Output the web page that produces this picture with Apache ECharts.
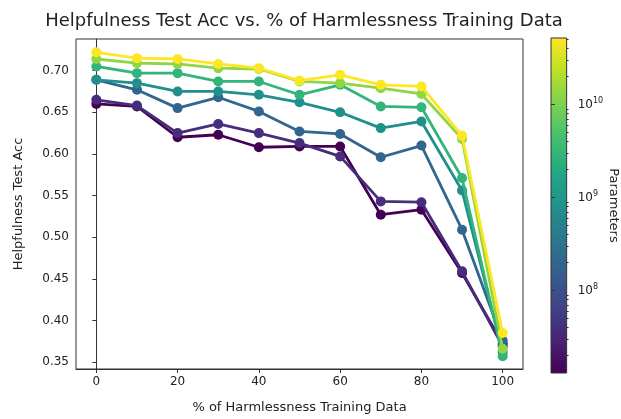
<!DOCTYPE html>
<html>
<head>
<meta charset="utf-8">
<script src="https://cdn.jsdelivr.net/npm/echarts@6/dist/echarts.min.js"></script>
<style>
  html, body { margin: 0; padding: 0; background: #fff; }
  #chart { width: 621px; height: 419px; }
</style>
</head>
<body>
<div id="chart"></div>
<script>
// % of harmlessness training data
var harmPct = [0, 10, 20, 30, 40, 50, 60, 70, 80, 90, 100]
// model sizes (parameters), smallest first
var modelParams = [1.3e7, 4.2e7, 1.97e8, 8.1e8, 2.7e9, 1.3e10, 5.2e10]
// helpfulness test acc per model, same order
var acc13M  = [0.660, 0.657, 0.620, 0.623, 0.608, 0.609, 0.609, 0.527, 0.533, 0.457, 0.372]
var acc42M  = [0.665, 0.658, 0.625, 0.636, 0.625, 0.613, 0.597, 0.543, 0.542, 0.459, 0.369]
var acc197M = [0.689, 0.677, 0.655, 0.668, 0.651, 0.627, 0.624, 0.596, 0.610, 0.509, 0.376]
var acc810M = [0.689, 0.685, 0.675, 0.675, 0.671, 0.662, 0.650, 0.631, 0.639, 0.556, 0.362]
var acc3B   = [0.705, 0.697, 0.697, 0.687, 0.687, 0.671, 0.683, 0.657, 0.656, 0.571, 0.357]
var acc13B  = [0.714, 0.709, 0.708, 0.703, 0.702, 0.687, 0.685, 0.679, 0.672, 0.618, 0.366]
var acc52B  = [0.722, 0.715, 0.714, 0.708, 0.703, 0.688, 0.695, 0.683, 0.681, 0.622, 0.385]
var allAcc = [acc13M, acc42M, acc197M, acc810M, acc3B, acc13B, acc52B]

var yTicks = [0.35, 0.40, 0.45, 0.50, 0.55, 0.60, 0.65, 0.70]
var xTicks = [0, 20, 40, 60, 80, 100]
var cbarTicks = [1e8, 1e9, 1e10]

// viridis colours at each model's log position
var lineColors = ['#440154', '#472d7b', '#31668e', '#21908d', '#33b47a', '#90d643', '#fde725']
var viridis = ['#fde725', '#bddf26', '#7ad151', '#44bf70', '#22a884', '#21918c', '#2a788e', '#355f8d', '#414487', '#482475', '#440154']

var cMin = Math.log10(modelParams[0])
var cMax = Math.log10(modelParams[modelParams.length - 1])
var minorTicks = []
for (var e = 7; e <= 10; e++) {
  for (var k = 2; k <= 9; k++) {
    var v = Math.log10(k) + e
    if (v > cMin && v < cMax) minorTicks.push(v)
  }
}

var font = 'DejaVu Sans'
var series = allAcc.map(function (arr, i) {
  return {
    type: 'line',
    xAxisIndex: 0,
    yAxisIndex: 0,
    data: harmPct.map(function (x, j) { return [x, arr[j]] }),
    symbol: 'circle',
    symbolSize: 10,
    z: 2 + i,
    itemStyle: { color: lineColors[i] },
    lineStyle: { color: lineColors[i], width: 2.8 },
    animation: false
  }
})

var myChart = echarts.init(document.getElementById('chart'))
myChart.setOption({
  animation: false,
  title: {
    text: 'Helpfulness Test Acc vs. % of Harmlessness Training Data',
    left: 299, top: 7, textAlign: 'center',
    textStyle: { fontFamily: font, fontSize: 18, fontWeight: 'normal', color: '#222' }
  },
  grid: [
    { left: 76, top: 39, width: 447, height: 333, show: true, borderColor: '#333', borderWidth: 1, backgroundColor: '#fff' },
    { left: 551, top: 38, width: 17, height: 335, show: true, borderColor: '#333', borderWidth: 1,
      backgroundColor: { type: 'linear', x: 0, y: 0, x2: 0, y2: 1,
        colorStops: viridis.map(function (c, i) { return { offset: i / (viridis.length - 1), color: c } }) } }
  ],
  xAxis: [
    {
      type: 'value', gridIndex: 0, min: -5, max: 105,
      name: '% of Harmlessness Training Data', nameLocation: 'middle', nameGap: 32,
      nameTextStyle: { fontFamily: font, fontSize: 13, color: '#222' },
      axisLine: { show: true, lineStyle: { color: '#333' } },
      axisTick: { show: true, length: 4, customValues: xTicks, lineStyle: { color: '#333' } },
      axisLabel: { customValues: xTicks, fontFamily: font, fontSize: 12, color: '#222', margin: 7 },
      splitLine: { show: false }
    },
    { type: 'value', gridIndex: 1, show: false, min: 0, max: 1 }
  ],
  yAxis: [
    {
      type: 'value', gridIndex: 0, min: 0.3417, max: 0.738,
      name: 'Helpfulness Test Acc', nameLocation: 'middle', nameGap: 51,
      nameTextStyle: { fontFamily: font, fontSize: 13, color: '#222' },
      axisLine: { show: true, lineStyle: { color: '#333' } },
      axisTick: { show: true, length: 4, customValues: yTicks, lineStyle: { color: '#333' } },
      axisLabel: { customValues: yTicks, fontFamily: font, fontSize: 12, color: '#222', margin: 7,
        formatter: function (v) { return v.toFixed(2) } },
      splitLine: { show: false }
    },
    {
      type: 'value', gridIndex: 1, position: 'right', min: cMin, max: cMax,
      name: 'Parameters', nameLocation: 'middle', nameGap: 38, nameRotate: -90,
      nameTextStyle: { fontFamily: font, fontSize: 13, color: '#222' },
      axisLine: { show: false },
      axisTick: { show: true, length: 4, customValues: cbarTicks.map(Math.log10), lineStyle: { color: '#333' } },
      axisLabel: {
        customValues: cbarTicks.map(Math.log10), margin: 11,
        formatter: function (v) { return '{b|10}{s|' + Math.round(v) + '}' },
        rich: {
          b: { fontFamily: font, fontSize: 12, color: '#222' },
          s: { fontFamily: font, fontSize: 8, color: '#222', verticalAlign: 'top', padding: [0, 0, 7, 0] }
        }
      },
      splitLine: { show: false }
    },
    {
      type: 'value', gridIndex: 1, position: 'right', min: cMin, max: cMax,
      axisLine: { show: false },
      axisTick: { show: true, length: 2, customValues: minorTicks, lineStyle: { color: '#333' } },
      axisLabel: { show: false },
      splitLine: { show: false }
    }
  ],
  series: series
})
</script>
</body>
</html>
